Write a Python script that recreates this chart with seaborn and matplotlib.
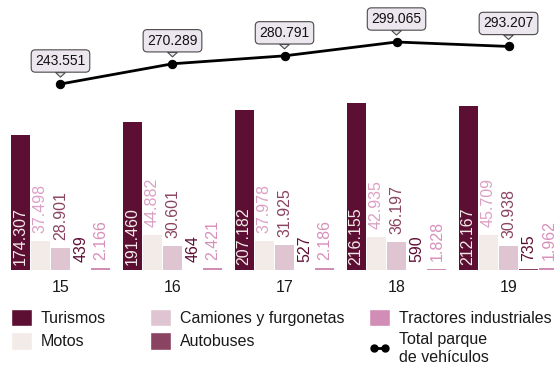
import pandas as pd
import seaborn as sns
import matplotlib.pyplot as plt
from matplotlib.patches import Patch
from matplotlib.lines import Line2D

# Datos del parque de vehículos (miles)
years = ['15', '16', '17', '18', '19']
turismos = [174307, 191460, 207182, 216155, 212167]
motos = [37498, 44882, 37978, 42935, 45709]
camiones = [28901, 30601, 31925, 36197, 30938]
autobuses = [439, 464, 527, 590, 735]
tractores = [2166, 2421, 2186, 1828, 1962]
total = [243551, 270289, 280791, 299065, 293207]

types = ['Turismos', 'Motos', 'Camiones y furgonetas', 'Autobuses', 'Tractores industriales']
bar_colors = ['#5d0f33', '#f3ebe8', '#dfc4d2', '#8a4462', '#d18db5']
label_colors = ['#f3ebe8', '#dca0c4', '#8a4462', '#5d0f33', '#d890bb']

series = [turismos, motos, camiones, autobuses, tractores]
df = pd.DataFrame({
    'year': [y for s in series for y in years],
    'type': [t for t, s in zip(types, series) for _ in s],
    'value': [v for s in series for v in s],
})

sns.set_theme(style='white')
plt.rcParams['font.family'] = ['Liberation Sans', 'DejaVu Sans']

fig = plt.figure(figsize=(5.54, 3.74), dpi=100)
ax = fig.add_axes([0, 104 / 374, 1, 270 / 374])

sns.barplot(data=df, x='year', y='value', hue='type', order=years, hue_order=types,
            palette=dict(zip(types, bar_colors)), width=0.9, saturation=1,
            errorbar=None, linewidth=0, legend=False, ax=ax)

# etiquetas de valor en las barras (y un pequeño hueco entre barras)
for k, (cont, vals) in enumerate(zip(ax.containers, series)):
    for patch, v in zip(cont, vals):
        w = patch.get_width()
        xc = patch.get_x() + w / 2
        patch.set_width(w * 0.95)
        patch.set_x(xc - w * 0.95 / 2)
        txt = f'{v:,}'.replace(',', '.')
        if k == 0:
            ax.annotate(txt, xy=(xc, 0), xytext=(0, 5), textcoords='offset pixels',
                        rotation=90, ha='center', va='bottom', fontsize=11.5,
                        color=label_colors[k])
        else:
            ax.annotate(txt, xy=(xc, v), xytext=(0, 8), textcoords='offset pixels',
                        rotation=90, ha='center', va='bottom', fontsize=11.5,
                        color=label_colors[k])

ax.set_ylim(0, 349110)
ax.set_xlabel('')
ax.set_ylabel('')
ax.set_yticks([])
ax.tick_params(axis='x', length=0, pad=7, labelsize=11.5, colors='#1a1a1a')
sns.despine(ax=ax, left=True, bottom=True)

# línea del total en un eje gemelo
ax2 = ax.twinx()
sns.lineplot(x=list(range(len(years))), y=total, ax=ax2, color='black', linewidth=2,
             marker='o', markersize=6, markeredgecolor='black')
for i, v in enumerate(total):
    ax2.annotate(f'{v:,}'.replace(',', '.'), xy=(i, v), xytext=(0, 23),
                 textcoords='offset pixels', ha='center', va='center', fontsize=10,
                 color='#111111',
                 bbox=dict(boxstyle='round,pad=0.3,rounding_size=0.3', fc='#ece6ef',
                           ec='#4a4a4a', lw=0.8),
                 arrowprops=dict(arrowstyle='wedge,tail_width=0.7,shrink_factor=0.5',
                                 fc='#ece6ef', ec='#4a4a4a', lw=0.8, shrinkA=0, shrinkB=5))
ax2.set_ylim(-2341, 354599)
ax2.axis('off')
ax.set_xlim(-0.540, 4.406)

# leyenda en tres columnas
legend_cols = [
    ([Patch(fc=bar_colors[0]), Patch(fc=bar_colors[1])], [types[0], types[1]], 11),
    ([Patch(fc=bar_colors[2]), Patch(fc=bar_colors[3])], [types[2], types[3]], 150),
    ([Patch(fc=bar_colors[4]),
      Line2D([], [], color='black', lw=2, marker='o', ms=5)],
     [types[4], 'Total parque\nde vehículos'], 369),
]
for handles, labels, xpix in legend_cols:
    fig.legend(handles, labels, loc='upper left', bbox_to_anchor=(xpix / 554, 1 - 309 / 374),
               frameon=False, fontsize=11.5, handlelength=1.3, handleheight=1.3,
               handletextpad=0.56, labelspacing=0.375, borderpad=0, borderaxespad=0,
               numpoints=2, labelcolor='#1a1a1a')

fig.savefig('out.png', dpi=100)
